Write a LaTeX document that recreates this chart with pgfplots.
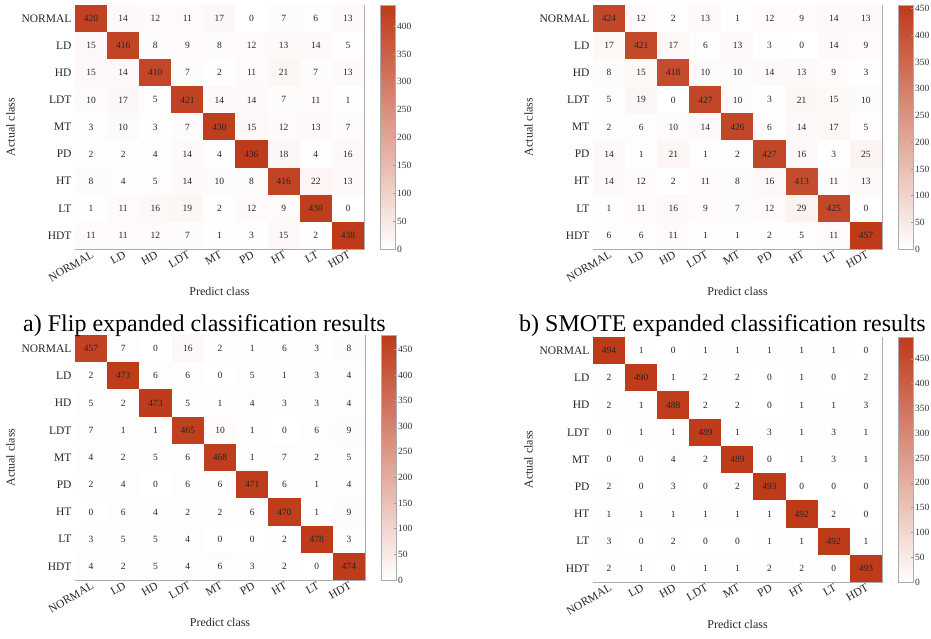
\documentclass[border=0pt]{standalone}
\usepackage{pgfplots}
\usepackage{pgfplotstable}
\pgfplotsset{compat=1.18}
\usepackage{fontspec}
\setmainfont{Liberation Serif}
\definecolor{cmhi}{RGB}{190,58,25}
\pgfplotstableread{
x y C
0 0 420
1 0 14
2 0 12
3 0 11
4 0 17
5 0 0
6 0 7
7 0 6
8 0 13
0 1 15
1 1 416
2 1 8
3 1 9
4 1 8
5 1 12
6 1 13
7 1 14
8 1 5
0 2 15
1 2 14
2 2 410
3 2 7
4 2 2
5 2 11
6 2 21
7 2 7
8 2 13
0 3 10
1 3 17
2 3 5
3 3 421
4 3 14
5 3 14
6 3 7
7 3 11
8 3 1
0 4 3
1 4 10
2 4 3
3 4 7
4 4 430
5 4 15
6 4 12
7 4 13
8 4 7
0 5 2
1 5 2
2 5 4
3 5 14
4 5 4
5 5 436
6 5 18
7 5 4
8 5 16
0 6 8
1 6 4
2 6 5
3 6 14
4 6 10
5 6 8
6 6 416
7 6 22
8 6 13
0 7 1
1 7 11
2 7 16
3 7 19
4 7 2
5 7 12
6 7 9
7 7 430
8 7 0
0 8 11
1 8 11
2 8 12
3 8 7
4 8 1
5 8 3
6 8 15
7 8 2
8 8 438
}\tabA
\pgfplotstableread{
x y C
0 0 424
1 0 12
2 0 2
3 0 13
4 0 1
5 0 12
6 0 9
7 0 14
8 0 13
0 1 17
1 1 421
2 1 17
3 1 6
4 1 13
5 1 3
6 1 0
7 1 14
8 1 9
0 2 8
1 2 15
2 2 418
3 2 10
4 2 10
5 2 14
6 2 13
7 2 9
8 2 3
0 3 5
1 3 19
2 3 0
3 3 427
4 3 10
5 3 3
6 3 21
7 3 15
8 3 10
0 4 2
1 4 6
2 4 10
3 4 14
4 4 426
5 4 6
6 4 14
7 4 17
8 4 5
0 5 14
1 5 1
2 5 21
3 5 1
4 5 2
5 5 427
6 5 16
7 5 3
8 5 25
0 6 14
1 6 12
2 6 2
3 6 11
4 6 8
5 6 16
6 6 413
7 6 11
8 6 13
0 7 1
1 7 11
2 7 16
3 7 9
4 7 7
5 7 12
6 7 29
7 7 425
8 7 0
0 8 6
1 8 6
2 8 11
3 8 1
4 8 1
5 8 2
6 8 5
7 8 11
8 8 457
}\tabB
\pgfplotstableread{
x y C
0 0 457
1 0 7
2 0 0
3 0 16
4 0 2
5 0 1
6 0 6
7 0 3
8 0 8
0 1 2
1 1 473
2 1 6
3 1 6
4 1 0
5 1 5
6 1 1
7 1 3
8 1 4
0 2 5
1 2 2
2 2 473
3 2 5
4 2 1
5 2 4
6 2 3
7 2 3
8 2 4
0 3 7
1 3 1
2 3 1
3 3 465
4 3 10
5 3 1
6 3 0
7 3 6
8 3 9
0 4 4
1 4 2
2 4 5
3 4 6
4 4 468
5 4 1
6 4 7
7 4 2
8 4 5
0 5 2
1 5 4
2 5 0
3 5 6
4 5 6
5 5 471
6 5 6
7 5 1
8 5 4
0 6 0
1 6 6
2 6 4
3 6 2
4 6 2
5 6 6
6 6 470
7 6 1
8 6 9
0 7 3
1 7 5
2 7 5
3 7 4
4 7 0
5 7 0
6 7 2
7 7 478
8 7 3
0 8 4
1 8 2
2 8 5
3 8 4
4 8 6
5 8 3
6 8 2
7 8 0
8 8 474
}\tabC
\pgfplotstableread{
x y C
0 0 494
1 0 1
2 0 0
3 0 1
4 0 1
5 0 1
6 0 1
7 0 1
8 0 0
0 1 2
1 1 490
2 1 1
3 1 2
4 1 2
5 1 0
6 1 1
7 1 0
8 1 2
0 2 2
1 2 1
2 2 488
3 2 2
4 2 2
5 2 0
6 2 1
7 2 1
8 2 3
0 3 0
1 3 1
2 3 1
3 3 489
4 3 1
5 3 3
6 3 1
7 3 3
8 3 1
0 4 0
1 4 0
2 4 4
3 4 2
4 4 489
5 4 0
6 4 1
7 4 3
8 4 1
0 5 2
1 5 0
2 5 3
3 5 0
4 5 2
5 5 493
6 5 0
7 5 0
8 5 0
0 6 1
1 6 1
2 6 1
3 6 1
4 6 1
5 6 1
6 6 492
7 6 2
8 6 0
0 7 3
1 7 0
2 7 2
3 7 0
4 7 0
5 7 1
6 7 1
7 7 492
8 7 1
0 8 2
1 8 1
2 8 0
3 8 1
4 8 1
5 8 2
6 8 2
7 8 0
8 8 493
}\tabD
\pgfplotsset{
  cm/.style={
    scale only axis, width=289pt, height=244pt, anchor=south west,
    xmin=-0.5, xmax=8.5, ymin=-0.5, ymax=8.5, y dir=reverse,
    xtick={0,...,8}, ytick={0,...,8},
    xticklabels={NORMAL,LD,HD,LDT,MT,PD,HT,LT,HDT},
    yticklabels={NORMAL,LD,HD,LDT,MT,PD,HT,LT,HDT},
    xticklabel style={rotate=30, anchor=north east, inner sep=1pt, font=\fontsize{11.5}{12}\selectfont, text=black!85},
    yticklabel style={font=\fontsize{11.5}{12}\selectfont, text=black!85},
    tick align=inside, major tick length=3pt, tick style={gray!80, line width=0.6pt},
    axis line style={gray!65, line width=0.9pt},
    axis on top,
    xlabel={Predict class}, ylabel={Actual class},
    label style={font=\fontsize{12}{14}\selectfont, text=black!85},
    colormap={wr}{rgb255(0cm)=(255,255,255); rgb255(1cm)=(190,58,25)},
    point meta min=0,
    colorbar,
    colorbar style={at={(parent axis.north east)}, anchor=north west, xshift=8pt, width=15pt,
      ytick distance=50, tick align=inside, major tick length=3pt, ytick pos=right, yticklabel pos=right,
      tick style={gray!80, line width=0.6pt}, axis line style={gray!65, line width=0.9pt},
      yticklabel style={font=\fontsize{9.5}{10}\selectfont, text=black!80, xshift=-2pt, /pgf/number format/assume math mode=true}},
  },
  cmplot/.style={draw=none, mark=none,
    nodes near coords={%
      \pgfkeys{/pgf/fpu=true,/pgf/fpu/output format=fixed}%
      \pgfmathparse{\pgfplotspointmeta/\cmmax*100}%
      \edef\cmpct{\pgfmathresult}%
      \pgfkeys{/pgf/fpu=false}%
      \setlength{\fboxsep}{0pt}%
      \colorbox{cmhi!\cmpct!white}{\parbox[c][27.3pt][c]{32.3pt}{\centering\pgfmathprintnumber[int detect, assume math mode=true]{\pgfplotspointmeta}}}%
    },
    nodes near coords align=center,
    nodes near coords style={font=\fontsize{9.5}{10}\selectfont, text=black!85, inner sep=0pt, outer sep=0pt}},
}
\begin{document}
\begin{tikzpicture}
\useasboundingbox (0,0) rectangle (931pt,639pt);
\def\cmmax{438}
\begin{axis}[cm, at={(75pt,390pt)}, point meta max=438]
\addplot[cmplot, point meta=explicit] table[x=x, y=y, meta=C] {\tabA};
\end{axis}
\def\cmmax{457}
\begin{axis}[cm, at={(593pt,390pt)}, point meta max=457]
\addplot[cmplot, point meta=explicit] table[x=x, y=y, meta=C] {\tabB};
\end{axis}
\def\cmmax{478}
\begin{axis}[cm, at={(75pt,59pt)}, width=290pt, height=245pt, point meta max=478]
\addplot[cmplot, point meta=explicit] table[x=x, y=y, meta=C] {\tabC};
\end{axis}
\def\cmmax{494}
\begin{axis}[cm, at={(593pt,57pt)}, height=245pt, point meta max=494]
\addplot[cmplot, point meta=explicit] table[x=x, y=y, meta=C] {\tabD};
\end{axis}
\node[anchor=base west, font=\fontsize{24}{26}\selectfont, inner sep=0pt] at (23pt,307pt) {a) Flip expanded classification results};
\node[anchor=base west, font=\fontsize{24}{26}\selectfont, inner sep=0pt] at (519pt,307pt) {b) SMOTE expanded classification results};
\end{tikzpicture}
\end{document}
